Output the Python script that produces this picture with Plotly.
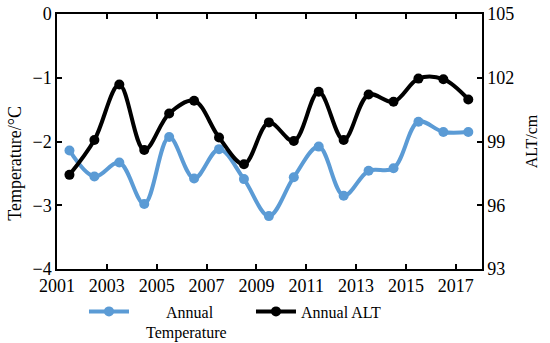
import plotly.graph_objects as go

years = [2001.5, 2002.5, 2003.5, 2004.5, 2005.5, 2006.5, 2007.5, 2008.5, 2009.5,
         2010.5, 2011.5, 2012.5, 2013.5, 2014.5, 2015.5, 2016.5, 2017.5]
temperature = [-2.14, -2.55, -2.33, -2.98, -1.93, -2.58, -2.12, -2.59, -3.17,
               -2.56, -2.08, -2.85, -2.46, -2.42, -1.69, -1.85, -1.85]
alt_cm = [97.43, 99.07, 101.68, 98.60, 100.32, 100.92, 99.19, 97.93, 99.90,
          99.02, 101.34, 99.07, 101.21, 100.87, 101.96, 101.93, 100.98]
x_ticks = [2001, 2003, 2005, 2007, 2009, 2011, 2013, 2015, 2017]
left_ticks = [0, -1, -2, -3, -4]
right_ticks = [105, 102, 99, 96, 93]

FONT = "Liberation Serif, Times New Roman, serif"
BLUE = "#5B9BD5"
NB = "\u00a0"

fig = go.Figure()
fig.add_trace(go.Scatter(
    x=years, y=temperature, mode="lines+markers",
    name=NB * 8 + "Annual<br>" + NB * 3 + "Temperature",
    line=dict(color=BLUE, width=4, shape="spline", smoothing=1),
    marker=dict(color=BLUE, size=10),
    yaxis="y",
))
fig.add_trace(go.Scatter(
    x=years, y=alt_cm, mode="lines+markers",
    name="Annual ALT",
    line=dict(color="black", width=4, shape="spline", smoothing=1),
    marker=dict(color="black", size=10),
    yaxis="y2",
))

axis_common = dict(
    showgrid=False, zeroline=False, showline=True, linecolor="black", linewidth=1.5,
    ticks="inside", ticklen=5, tickwidth=1.5, tickcolor="black",
    tickfont=dict(family=FONT, size=18, color="black"),
)

fig.update_layout(
    width=550, height=343,
    margin=dict(l=57, r=68, t=14, b=74, autoexpand=False),
    paper_bgcolor="white", plot_bgcolor="white",
    font=dict(family=FONT, color="black"),
    xaxis=dict(range=[2001, 2018.05], tickvals=x_ticks, mirror="ticks", **axis_common),
    yaxis=dict(range=[-4, 0], tickvals=left_ticks, **axis_common),
    yaxis2=dict(range=[93, 105], tickvals=right_ticks, overlaying="y", side="right",
                title=dict(text="ALT/cm", font=dict(family=FONT, size=16), standoff=12),
                **axis_common),
    legend=dict(orientation="h", x=0.0635, y=-0.10, xanchor="left", yanchor="top",
                valign="top", font=dict(family=FONT, size=16, color="black"),
                bgcolor="rgba(0,0,0,0)", entrywidth=112, entrywidthmode="pixels",
                itemwidth=40),
    annotations=[dict(
        text="Temperature/°C", textangle=-90, showarrow=False,
        xref="paper", yref="paper", x=-0.099, y=0.416, xanchor="center", yanchor="middle",
        font=dict(family=FONT, size=18, color="black"),
    )],
)

fig.write_html("out.html", config={"displayModeBar": False},
               post_script="document.body.style.margin='0';")
